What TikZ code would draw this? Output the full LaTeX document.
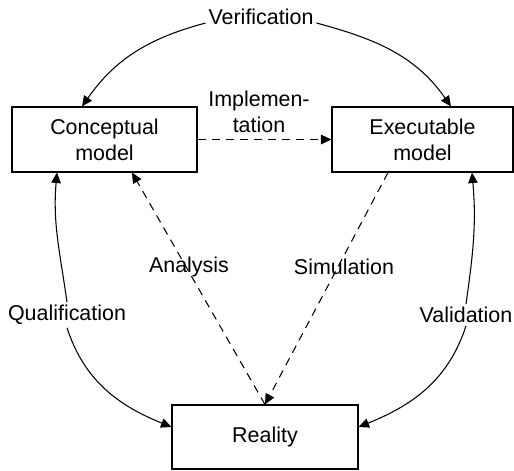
\documentclass[tikz,border=0pt]{standalone}
\usepackage{fontspec}
\setmainfont{Liberation Sans}
\usepackage{tikz}
\usetikzlibrary{arrows.meta}

\begin{document}
\begin{tikzpicture}[box/.style = {draw, line width = 0.6pt, minimum width = 3.7cm, minimum height = 1.3cm, align = center, inner sep = 0pt},
        lbl/.style = {align = center, inner sep = 1.5pt},
        arr/.style = {line width = 0.6pt, -{Triangle[length = 2.1mm, width = 1.9mm]}},
        dsh/.style = {arr, dash pattern = on 1.6mm off 1.2mm},
        font = \fontsize{12.2}{14.8}\selectfont]
        \useasboundingbox (0,0) rectangle (10.28,9.4);

        \node [box] (conc) at (2.09, 6.61) {Conceptual\\model};
        \node [box, minimum width = 3.62cm] (exec) at (8.45, 6.61) {Executable\\model};
        \node [box, minimum width = 3.72cm, minimum height = 1.28cm] (real) at (5.3, 0.66) {Reality};

        \node [lbl] (verif) at (5.22, 9.06) {Verification};
        \node [lbl] (impl) at (5.18, 7.16) {Implemen-\\tation};
        \node [lbl] (anal) at (3.78, 4.06) {Analysis};
        \node [lbl] (simu) at (6.88, 4.06) {Simulation};
        \node [lbl] (qual) at (1.34, 3.1) {Qualification};
        \node [lbl] (vali) at (9.32, 3.1) {Validation};

        \draw [arr] ([yshift=-.12cm]verif.west) to [out=195, in=55] ([xshift=-.45cm]conc.north);
        \draw [arr] ([yshift=-.12cm]verif.east) to [out=-15, in=125] ([xshift=.57cm]exec.north);
        \draw [dsh] (conc.east) -- (exec.west);
        \draw [dsh] (real.north) -- ([xshift=.55cm]conc.south);
        \draw [dsh] ([xshift=-.69cm]exec.south) -- (real.north);

        \draw [arr] (qual.north) to [out=98, in=-95] ([xshift=-.95cm]conc.south);
        \draw [arr] (qual.south) to [out=-72, in=158] ([yshift=.2cm]real.west);
        \draw [arr] (vali.north) to [out=82, in=-85] ([xshift=.99cm]exec.south);
        \draw [arr] (vali.south) to [out=-108, in=22] ([yshift=.2cm]real.east);
\end{tikzpicture}
\end{document}
